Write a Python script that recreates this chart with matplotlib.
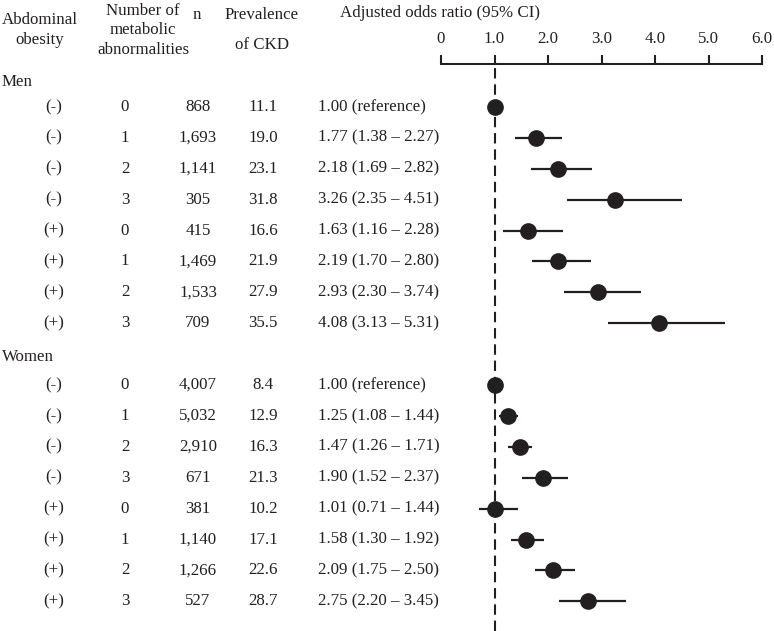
import matplotlib
matplotlib.use("Agg")
import matplotlib.pyplot as plt
import matplotlib.transforms as mtransforms

plt.rcParams['font.family'] = ['Liberation Serif', 'DejaVu Serif']

obesity = ['(-)', '(-)', '(-)', '(-)', '(+)', '(+)', '(+)', '(+)']
n_abn = ['0', '1', '2', '3', '0', '1', '2', '3']

men_n = ['868', '1,693', '1,141', '305', '415', '1,469', '1,533', '709']
men_prev = ['11.1', '19.0', '23.1', '31.8', '16.6', '21.9', '27.9', '35.5']
men_or = [1.00, 1.77, 2.18, 3.26, 1.63, 2.19, 2.93, 4.08]
men_lo = [1.00, 1.38, 1.69, 2.35, 1.16, 1.70, 2.30, 3.13]
men_hi = [1.00, 2.27, 2.82, 4.51, 2.28, 2.80, 3.74, 5.31]

women_n = ['4,007', '5,032', '2,910', '671', '381', '1,140', '1,266', '527']
women_prev = ['8.4', '12.9', '16.3', '21.3', '10.2', '17.1', '22.6', '28.7']
women_or = [1.00, 1.25, 1.47, 1.90, 1.01, 1.58, 2.09, 2.75]
women_lo = [1.00, 1.08, 1.26, 1.52, 0.71, 1.30, 1.75, 2.20]
women_hi = [1.00, 1.44, 1.71, 2.37, 1.44, 1.92, 2.50, 3.45]

ticks = [0, 1, 2, 3, 4, 5, 6]
tick_labels = ['0', '1.0', '2.0', '3.0', '4.0', '5.0', '6.0']

ink = '#231f20'
fs = 12.2
W, H = 774, 631

fig = plt.figure(figsize=(W / 100, H / 100), dpi=100)
ax = fig.add_axes([441 / W, 0, 321 / W, (H - 64) / H])
ax.set_xlim(0, 6)
ax.set_ylim(16.96, -1.39)

for s in ['left', 'right', 'bottom']:
    ax.spines[s].set_visible(False)
ax.spines['top'].set_linewidth(1.5)
ax.spines['top'].set_color(ink)
ax.set_yticks([])
ax.xaxis.tick_top()
ax.set_xticks(ticks, tick_labels)
ax.tick_params(axis='x', direction='out', length=6.5, width=1.5, color=ink,
               labelsize=fs, labelcolor=ink, pad=6)

# reference line at OR = 1
ax.axvline(1, color=ink, lw=1.5, ls=(0, (5, 2.8)), zorder=1)

def tx(px):
    return px / W

def fy(py):
    return 1 - py / H

trans = mtransforms.blended_transform_factory(fig.transFigure, ax.transData)

def draw_group(y0, ns, prevs, ors, los, his):
    ys = [y0 + i for i in range(len(ors))]
    ax.hlines(ys, los, his, color=ink, lw=1.6, zorder=2)
    ax.plot(ors, ys, 'o', ms=11, color=ink, zorder=3)
    for i, y in enumerate(ys):
        ax.text(tx(54), y, obesity[i], transform=trans, ha='center', va='center', fontsize=fs, color=ink)
        ax.text(tx(125), y, n_abn[i], transform=trans, ha='center', va='center', fontsize=fs, color=ink)
        ax.text(tx(198), y, ns[i], transform=trans, ha='center', va='center', fontsize=fs, color=ink)
        ax.text(tx(263), y, prevs[i], transform=trans, ha='center', va='center', fontsize=fs, color=ink)
        if los[i] == his[i]:
            lab = '%.2f (reference)' % ors[i]
        else:
            lab = '%.2f (%.2f \u2013 %.2f)' % (ors[i], los[i], his[i])
        ax.text(tx(318), y, lab, transform=trans, ha='left', va='center', fontsize=fs, color=ink)

ax.text(tx(2), -0.8, 'Men', transform=trans, ha='left', va='center', fontsize=fs, color=ink)
draw_group(0, men_n, men_prev, men_or, men_lo, men_hi)
ax.text(tx(2), 8.1, 'Women', transform=trans, ha='left', va='center', fontsize=fs, color=ink)
draw_group(9, women_n, women_prev, women_or, women_lo, women_hi)

# column headers
fig.text(tx(40), fy(30), 'Abdominal\nobesity', ha='center', va='center', fontsize=fs,
         color=ink, linespacing=1.33)
fig.text(tx(143), fy(30.5), 'Number of\nmetabolic\nabnormalities', ha='center', va='center',
         fontsize=fs, color=ink, linespacing=1.33)
fig.text(tx(197), fy(15), 'n', ha='center', va='center', fontsize=fs, color=ink)
fig.text(tx(262), fy(15), 'Prevalence', ha='center', va='center', fontsize=fs, color=ink)
fig.text(tx(262), fy(45), 'of CKD', ha='center', va='center', fontsize=fs, color=ink)
fig.text(tx(340), fy(13), 'Adjusted odds ratio (95% CI)', ha='left', va='center',
         fontsize=fs, color=ink)

fig.savefig('out.png', dpi=100)
